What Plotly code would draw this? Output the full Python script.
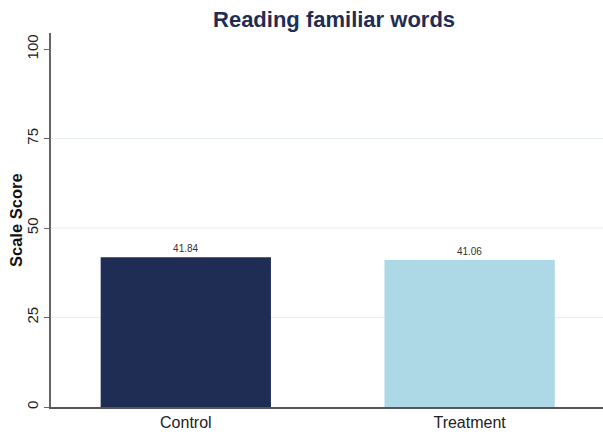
import plotly.graph_objects as go

groups = ['Control', 'Treatment']
scores = [41.84, 41.06]
bar_colors = ['#1f2d54', '#add8e6']
grid_vals = [25, 50, 75]

NAVY = '#1f2d54'

fig = go.Figure()
fig.add_trace(go.Bar(
    x=groups, y=scores,
    marker=dict(color=bar_colors, line=dict(width=0)),
    width=0.6,
    text=[f'{v:.2f}' for v in scores],
    textposition='outside',
    textfont=dict(size=10, color='#333333'),
    cliponaxis=False,
    showlegend=False,
))

# light gridlines (none at 0 or 100, like the original)
for g in grid_vals:
    fig.add_hline(y=g, line=dict(color='#e6eef0', width=1), layer='below')

fig.update_layout(
    width=603, height=437,
    plot_bgcolor='white', paper_bgcolor='white',
    margin=dict(l=51, r=0, t=33, b=30),
    font=dict(family='Liberation Sans, Arial, sans-serif', color='#222222'),
    title=dict(text='<b>Reading familiar words</b>', x=0.554, xanchor='center',
               y=0.955, yanchor='middle',
               font=dict(size=22, color=NAVY)),
)

# y-axis title placed by hand so it sits close to the tick labels
fig.add_annotation(
    text='<b>Scale Score</b>', textangle=-90,
    xref='paper', yref='paper', x=-35 / 552, y=0.5,
    xanchor='center', yanchor='middle', showarrow=False,
    font=dict(size=16.5, color='#111111'),
)

fig.update_xaxes(
    range=[-0.475, 1.47],
    showline=True, linecolor='#555555', linewidth=2,
    ticks='', showgrid=False,
    tickfont=dict(size=16, color='#222222'),
)

fig.update_yaxes(
    range=[0, 104.5],
    tickvals=[0, 25, 50, 75, 100],
    tickangle=-90,
    ticks='outside', ticklen=5, tickcolor='#666666',
    showline=True, linecolor='#666666', linewidth=1.5,
    showgrid=False, zeroline=False,
    tickfont=dict(size=15, color='#222222'),
)

# drop the default page margin so the figure sits at the window's corner
fig.write_html('out.html', config={'displayModeBar': False},
               post_script="document.body.style.margin='0';")
